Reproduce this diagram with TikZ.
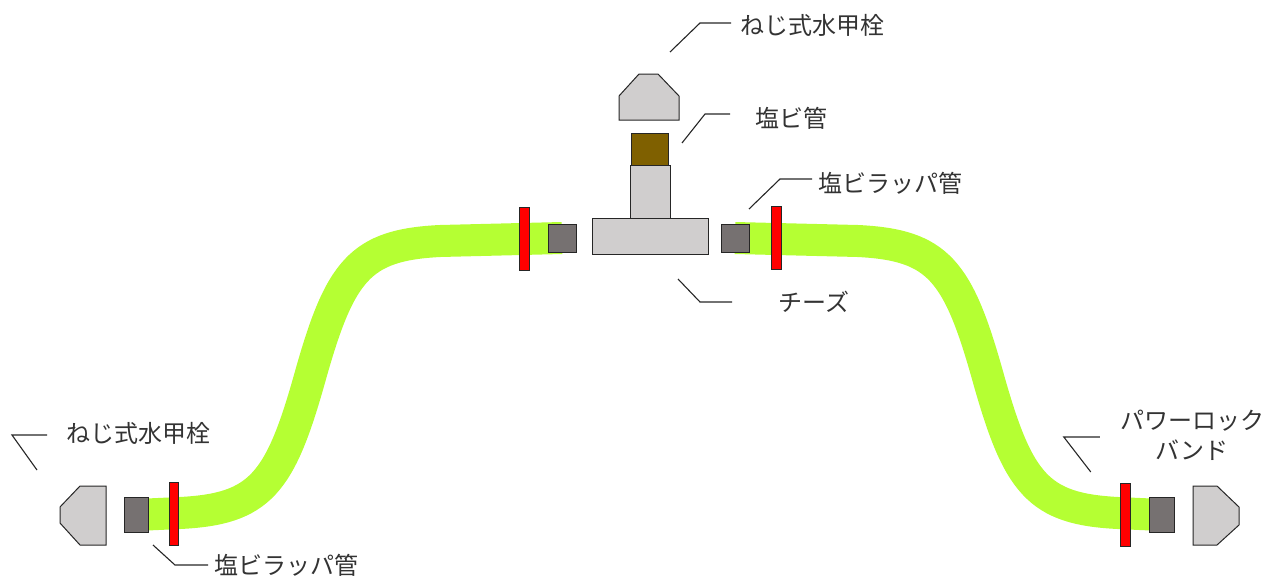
\documentclass[tikz,border=0pt]{standalone}
\usepackage{fontspec}
\newfontfamily\jpfont{Noto Sans CJK JP}
\usetikzlibrary{positioning}
\definecolor{hosegreen}{RGB}{181,255,51}
\definecolor{sockgray}{RGB}{118,113,113}
\definecolor{fitgray}{RGB}{208,206,206}
\definecolor{pvcbrown}{RGB}{127,96,0}
\tikzset{part/.style={draw=black!85,line width=1pt,inner sep=0pt,outer sep=0pt}}
\tikzset{socket/.style={part,fill=sockgray}}
\tikzset{band/.style={part,fill=red,minimum width=10pt,minimum height=63pt}}
\tikzset{body/.style={part,fill=fitgray}}
\tikzset{hose/.style={draw=hosegreen,line width=32pt}}
\tikzset{tag/.style={font=\jpfont\fontsize{24}{30}\selectfont,text=black!80,inner sep=0pt,anchor=west}}
\tikzset{leader/.style={draw=black!85,line width=1.1pt}}

\begin{document}
\begin{tikzpicture}[x=1pt,y=-1pt]
          \useasboundingbox (0,0) rectangle (1267,579);
          \coordinate (endTL) at (562,238);
          \coordinate (endTR) at (735,238);
          \coordinate (endBL) at (136,515);
          \coordinate (endBR) at (1162,515);
          % hoses
          \draw[hose] (endBL) -- (180,513) .. controls (260,509) and (280,484) .. (310,377)
                      .. controls (340,270) and (360,245) .. (440,241) -- (endTL);
          \draw[hose] (endTR) -- (858,241) .. controls (938,245) and (958,270) .. (988,377)
                      .. controls (1018,484) and (1038,509) .. (1118,513) -- (endBR);
          % tee with riser and cap
          \node[body,minimum width=116pt,minimum height=36pt] (tee) at (650,236) {};
          \node[body,minimum width=40pt,minimum height=53pt] (riser) [above=0pt of tee] {};
          \node[part,fill=pvcbrown,minimum width=37pt,minimum height=32pt] (pvc) [above=0pt of riser] {};
          \draw[body] (619,96) -- (639,74) -- (658,74) -- (679,96) -- (679,120) -- (619,120) -- cycle;
          % sockets and bands
          \node[socket,minimum width=28pt,minimum height=28pt] (sockTL) at (endTL) {};
          \node[socket,minimum width=28pt,minimum height=28pt] (sockTR) at (endTR) {};
          \node[socket,minimum width=24pt,minimum height=35pt] (sockBL) at (endBL) {};
          \node[socket,minimum width=25pt,minimum height=35pt] (sockBR) at (endBR) {};
          \node[band] (bandTL) at (524,239) {};
          \node[band] (bandTR) at (776,238) {};
          \node[band,minimum width=9pt] (bandBL) at (173.5,514) {};
          \node[band] (bandBR) at (1125,515) {};
          % end caps
          \draw[body] (80,486) -- (106,486) -- (106,545) -- (80,545) -- (60,523) -- (60,507) -- cycle;
          \draw[body] (1193,486) -- (1217,486) -- (1239,507) -- (1239,525) -- (1217,545) -- (1193,545) -- cycle;
          % labels
          \node[tag] (capT) at (740,25) {ねじ式水甲栓};
          \node[tag] (pvcT) at (755,118) {塩ビ管};
          \node[tag] (flareT) at (818,183) {塩ビラッパ管};
          \node[tag] (teeT) at (778,302) {チーズ};
          \node[tag] (capL) at (66,433) {ねじ式水甲栓};
          \node[tag] (flareL) at (214,565) {塩ビラッパ管};
          \node[tag,anchor=center,align=center] (bandT) at (1192,435) {パワーロック\\バンド};
          \draw[leader] ([xshift=-9pt,yshift=2pt]capT.west) -- ++(-31,0) -- ++(-30,29);
          \draw[leader] ([xshift=-25pt,yshift=4pt]pvcT.west) -- ++(-25,0) -- ++(-23,29);
          \draw[leader] ([xshift=-6pt,yshift=4pt]flareT.west) -- ++(-32,0) -- ++(-31,30);
          \draw[leader] ([xshift=-46pt]teeT.west) -- ++(-32,0) -- ++(-22,-23);
          \draw[leader] ([xshift=-6pt]flareL.west) -- ++(-33,0) -- ++(-22,-20);
          \draw[leader] ([xshift=-19pt,yshift=-2pt]capL.west) -- ++(-35,0) -- ++(25,35);
          \draw[leader] ([xshift=-20pt,yshift=-2pt]bandT.west) -- ++(-36,0) -- ++(27,35);
\end{tikzpicture}
\end{document}
